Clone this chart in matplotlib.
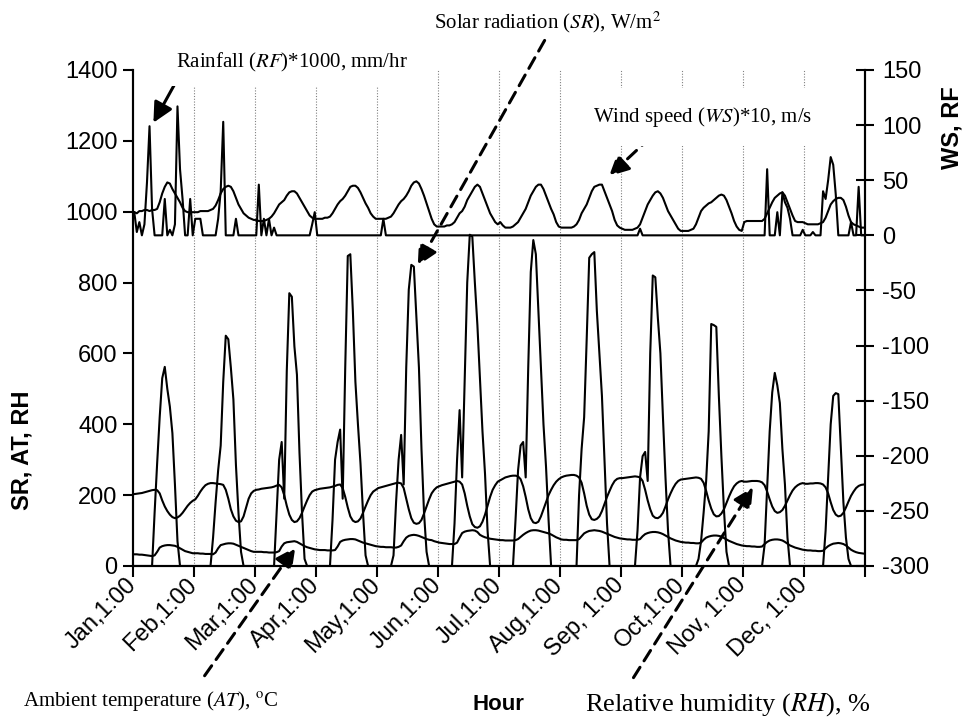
import numpy as np
import matplotlib.pyplot as plt
from matplotlib.transforms import ScaledTranslation

plt.rcParams['font.family'] = ['Liberation Sans', 'DejaVu Sans']
plt.rcParams['mathtext.fontset'] = 'stix'
plt.rcParams['axes.unicode_minus'] = False

# typical day (24 hourly values, 1:00 .. 24:00) for every month
months = ['Jan,1:00', 'Feb,1:00', 'Mar,1:00', 'Apr,1:00', 'May,1:00', 'Jun,1:00',
          'Jul,1:00', 'Aug,1:00', 'Sep, 1:00', 'Oct,1:00', 'Nov, 1:00', 'Dec, 1:00']

# solar radiation, W/m2
sr = [
    [0,0,0,0,0,0,0,0,150,290,420,530,562,500,450,375,230,70,0,0,0,0,0,0],
    [0,0,0,0,0,0,0,80,180,270,340,520,650,640,560,470,285,150,40,0,0,0,0,0],
    [0,0,0,0,0,0,0,0,150,300,350,190,550,770,760,620,540,320,150,20,0,0,0,0],
    [0,0,0,0,0,0,130,300,350,385,190,560,875,880,720,520,400,290,150,30,0,0,0,0],
    [0,0,0,0,0,0,30,180,300,370,230,560,780,850,845,700,560,330,150,40,0,0,0,0],
    [0,0,0,0,0,0,120,300,440,250,520,800,935,930,800,680,530,380,260,100,0,0,0,0],
    [0,0,0,0,0,0,130,270,340,350,250,560,830,920,880,720,560,400,280,130,0,0,0,0],
    [0,0,0,0,0,0,0,200,330,420,640,870,880,886,720,600,480,300,120,0,0,0,0,0],
    [0,0,0,0,0,0,100,250,310,322,240,600,820,815,700,600,420,250,100,0,0,0,0,0],
    [0,0,0,0,0,0,20,70,150,240,380,683,680,675,480,310,160,40,0,0,0,0,0,0],
    [0,0,0,0,0,0,0,0,60,220,380,490,545,510,460,330,230,80,0,0,0,0,0,0],
    [0,0,0,0,0,0,0,0,100,250,400,480,488,485,330,180,80,20,0,0,0,0,0,0],
]

# relative humidity, %
rh = [
    [203,204,205,206,208,210,212,214,215,214,205,185,168,155,145,138,135,137,142,150,160,170,178,184],
    [188,198,210,220,228,232,234,234,233,232,231,229,215,190,160,140,128,124,126,140,165,190,205,212],
    [215,216,218,219,220,221,222,224,227,229,222,200,170,145,130,124,126,135,150,168,185,200,210,214],
    [216,218,219,220,221,222,224,226,229,230,220,195,165,140,128,124,126,134,150,168,185,200,210,215],
    [220,222,224,226,228,230,232,234,235,233,220,190,160,135,122,119,121,130,148,168,188,205,215,222],
    [225,228,230,232,234,236,238,240,238,230,205,170,140,118,110,108,112,125,145,170,195,215,228,238],
    [242,246,250,252,254,255,255,253,245,225,195,160,135,123,121,125,140,160,180,200,215,228,238,245],
    [250,253,255,256,257,257,255,250,235,205,170,145,132,130,133,140,155,175,195,212,228,240,246,248],
    [248,249,250,251,252,253,252,250,240,215,185,160,142,136,135,140,150,168,188,205,220,232,240,244],
    [245,246,247,248,249,250,249,246,235,212,185,162,146,140,141,148,160,178,196,212,225,233,238,240],
    [238,238,239,240,240,240,239,236,228,210,188,168,155,150,152,158,170,185,200,213,222,228,232,234],
    [232,232,233,233,234,234,233,230,222,205,180,158,145,140,142,150,165,182,198,210,220,226,229,230],
]

# ambient temperature, C
at = [
    [33,33,32,32,31,30,29,28,30,40,52,56,58,59,59,58,57,54,50,46,42,40,38,36],
    [36,36,35,35,34,34,34,33,38,50,59,61,63,64,64,63,60,57,54,51,48,45,42,40],
    [40,40,40,39,39,38,38,38,39,42,55,64,67,68,69,70,68,64,60,56,53,51,49,47],
    [46,45,45,45,44,44,44,45,55,68,72,74,75,76,76,75,72,69,66,64,62,60,58,56],
    [55,54,54,53,53,53,52,52,54,58,70,80,85,87,88,87,85,82,79,76,74,73,70,68],
    [66,65,64,63,62,62,62,66,80,93,97,99,100,101,100,96,88,84,81,79,77,76,75,74],
    [73,73,72,72,72,72,73,76,82,88,93,97,100,101,101,100,98,96,94,92,89,85,81,78],
    [75,74,74,73,73,73,73,76,84,92,96,99,100,101,100,99,97,94,91,88,85,82,80,78],
    [77,76,75,75,74,74,74,76,84,90,93,95,96,96,95,93,90,86,82,78,75,72,70,68],
    [67,66,66,65,65,64,64,66,74,80,83,85,86,86,85,83,79,75,71,68,65,62,60,58],
    [57,56,56,55,55,54,54,55,62,68,72,74,75,75,74,72,68,63,58,55,52,50,48,46],
    [45,44,44,43,43,42,42,43,50,56,60,63,64,65,64,62,58,52,46,42,39,37,36,35],
]

# wind speed * 10, m/s
ws = [
    [21,20,22,22,23,23,22,23,23,24,30,38,44,48,47,42,38,34,30,25,22,21,21,21],
    [21,21,22,22,22,22,23,24,27,32,38,42,44,45,44,40,34,28,24,20,18,16,15,14],
    [14,13,13,13,14,15,17,20,24,28,30,32,36,39,40,40,38,34,30,26,22,18,16,15],
    [15,15,15,16,16,17,20,24,28,31,33,36,40,44,45,45,43,39,34,29,25,20,17,15],
    [15,15,15,15,16,17,20,24,28,31,33,36,40,45,48,49,47,42,36,29,22,15,10,8],
    [8,8,8,9,9,10,12,16,20,22,26,32,36,40,44,46,44,38,32,26,20,16,12,10],
    [12,9,7,7,7,8,10,12,16,20,24,30,36,40,44,46,46,42,36,30,24,19,12,8],
    [7,7,7,7,7,8,10,14,20,24,28,34,40,44,45,46,46,40,34,28,22,14,9,7],
    [6,5,5,5,5,6,7,10,16,22,28,32,36,39,40,38,34,28,22,18,14,10,6,4],
    [4,4,4,5,6,10,16,22,25,27,29,30,32,34,36,37,36,32,26,20,13,8,5,4],
    [12,13,13,13,13,13,13,13,15,20,25,30,34,36,38,39,36,30,24,18,13,12,12,12],
    [11,10,10,10,10,10,11,12,16,22,28,31,33,34,34,32,26,18,12,10,9,8,7,7],
]

# rainfall * 1000, mm/hr
rf = [
    [21,3,12,0,10,48,99,24,0,0,0,0,33,0,5,0,10,117,60,33,0,0,33,0],
    [15,15,15,0,0,0,0,0,0,15,40,103,0,0,0,0,15,0,0,0,0,0,0,0],
    [0,46,0,15,0,15,0,7,0,0,0,0,0,0,0,0,0,0,0,0,0,0,10,21],
    [0,0,0,0,0,0,0,0,0,0,0,0,0,0,0,0,0,0,0,0,0,0,0,0],
    [0,0,15,0,0,0,0,0,0,0,0,0,0,0,0,0,0,0,0,0,0,0,0,0],
    [0,0,0,0,0,0,0,0,0,0,0,0,0,0,0,0,0,0,0,0,0,0,0,0],
    [0,0,0,0,0,0,0,0,0,0,0,0,0,0,0,0,0,0,0,0,0,0,0,0],
    [0,0,0,0,0,0,0,0,0,0,0,0,0,0,0,0,0,0,0,0,0,0,0,0],
    [0,0,0,0,0,0,0,6,0,0,0,0,0,0,0,0,0,0,0,0,0,0,0,0],
    [0,0,0,0,0,0,0,0,0,0,0,0,0,0,0,0,0,0,0,0,0,0,0,0],
    [0,0,0,0,0,0,0,0,0,60,0,0,0,21,0,39,30,25,15,0,0,0,0,5],
    [0,0,0,3,0,0,0,40,33,50,71,64,37,0,0,0,0,0,12,0,0,44,0,0],
]

W, H = 965, 717
fig = plt.figure(figsize=(W / 100, H / 100), dpi=100)
ax = fig.add_axes([133 / W, 1 - 566 / H, 732 / W, 496 / H])
ax2 = ax.twinx()

hours = np.arange(288)
for s in (sr, rh, at):
    ax.plot(hours, np.concatenate(s), color='black', lw=1.5, zorder=3)
for s in (ws, rf):
    ax2.plot(hours, np.concatenate(s), color='black', lw=1.5, zorder=3)

ticks = np.arange(0, 289, 24) - 0.5
ax.set_xlim(-0.5, 287.5)
ax.set_ylim(0, 1400)
ax2.set_ylim(-300, 150)
ax.set_yticks(range(0, 1401, 200))
ax2.set_yticks(range(-300, 151, 50))
ax.set_xticks(ticks)
ax.set_xticklabels(months + [''], rotation=45, ha='right', va='center',
                   rotation_mode='anchor', fontsize=17)
shift = ScaledTranslation(-0.1, -0.22, fig.dpi_scale_trans)
for lab in ax.get_xticklabels():
    lab.set_transform(lab.get_transform() + shift)

for t in ticks[1:-1]:
    ax.axvline(t, color='#808080', lw=0.8, ls=(0, (1, 1.5)), zorder=1)

ax.spines['top'].set_visible(False)
ax2.spines['top'].set_visible(False)
for a in (ax, ax2):
    for sp in a.spines.values():
        sp.set_linewidth(1.5)
ax.tick_params(axis='y', direction='out', length=7, width=1.5, labelsize=17, pad=4)
ax.tick_params(axis='x', direction='out', length=8, width=1.5)
ax2.tick_params(axis='y', direction='inout', length=13, width=1.5, labelsize=17, pad=6)

fig.text(22 / W, 1 - 450 / H, 'SR, AT, RH', rotation=90, ha='center', va='center',
         fontsize=17, fontweight='bold')
fig.text(952 / W, 1 - 128 / H, 'WS, RF', rotation=90, ha='center', va='center',
         fontsize=17, fontweight='bold')
fig.text(498 / W, 1 - 705 / H, 'Hour', ha='center', va='center',
         fontsize=16, fontweight='bold')

serif = 'Liberation Serif'


def fp(x, y):
    return (x / W, 1 - y / H)


# labels; white boxes hide the grid as in the original
fig.text(*fp(292, 62), 'Rainfall ($\\mathit{RF}$)*1000, mm/hr', family=serif,
         fontsize=15, ha='center', va='center',
         bbox=dict(fc='white', ec='none', pad=9))
fig.text(*fp(548, 22), 'Solar radiation ($\\mathit{SR}$), W/m$^2$', family=serif,
         fontsize=15, ha='center', va='center')
fig.text(*fp(703, 117), 'Wind speed ($\\mathit{WS}$)*10, m/s', family=serif,
         fontsize=15, ha='center', va='center',
         bbox=dict(fc='white', ec='none', pad=12))
fig.text(*fp(151, 701), 'Ambient temperature ($\\mathit{AT}$), $^{\\mathrm{o}}$C',
         family=serif, fontsize=15, ha='center', va='center')
fig.text(*fp(728, 705), 'Relative humidity ($\\mathit{RH}$), %', family=serif,
         fontsize=19, ha='center', va='center')

solid = dict(arrowstyle='-|>', color='black', lw=2.2, mutation_scale=30)
dashed = dict(arrowstyle='-|>', color='black', lw=2.2, mutation_scale=30,
              linestyle=(0, (4, 2.5)))
ax2.annotate('', xy=(7, 100), xytext=fp(177, 80), textcoords='figure fraction',
             arrowprops=solid, zorder=6)
ax.annotate('', xy=(111, 841), xytext=fp(546, 38), textcoords='figure fraction',
            arrowprops=dashed, zorder=6)
ax2.annotate('', xy=(186, 52), xytext=fp(653, 135), textcoords='figure fraction',
             arrowprops=dashed, zorder=6)
ax.annotate('', xy=(64, 59), xytext=fp(203, 678), textcoords='figure fraction',
            arrowprops=dashed, zorder=6, annotation_clip=False)
ax.annotate('', xy=(244, 229), xytext=fp(632, 680), textcoords='figure fraction',
            arrowprops=dashed, zorder=6, annotation_clip=False)

fig.savefig('out.png', dpi=100)
